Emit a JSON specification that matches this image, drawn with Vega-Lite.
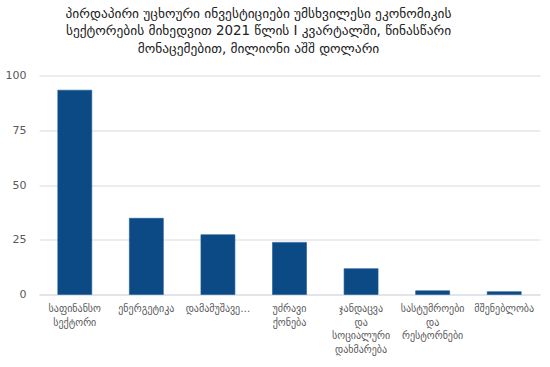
{
  "$schema": "https://vega.github.io/schema/vega-lite/v6.json",
  "width": 501,
  "height": 219,
  "autosize": {"type": "none"},
  "padding": {"left": 39, "top": 75.5, "right": 10, "bottom": 72.5},
  "background": "white",
  "title": {
    "text": [
      "პირდაპირი უცხოური ინვესტიციები უმსხვილესი ეკონომიკის",
      "სექტორების მიხედვით 2021 წლის I კვარტალში, წინასწარი",
      "მონაცემებით, მილიონი აშშ დოლარი"
    ],
    "font": "DejaVu Sans",
    "fontSize": 13.4,
    "fontWeight": "normal",
    "color": "#222222",
    "lineHeight": 17.5,
    "anchor": "middle",
    "dx": -31,
    "offset": 14.5
  },
  "data": {
    "values": [
      {"sector": "საფინანსო სექტორი", "value": 93.3},
      {"sector": "ენერგეტიკა", "value": 34.8},
      {"sector": "დამამუშავე…", "value": 27.3},
      {"sector": "უძრავი ქონება", "value": 23.8},
      {"sector": "ჯანდაცვა და სოციალური დახმარება", "value": 11.8},
      {"sector": "სასტუმროები და რესტორნები", "value": 1.7},
      {"sector": "მშენებლობა", "value": 1.3}
    ]
  },
  "mark": {"type": "bar", "color": "#0c4a86", "stroke": "#1a5a96", "strokeWidth": 0.6},
  "encoding": {
    "x": {
      "field": "sector",
      "type": "nominal",
      "sort": null,
      "scale": {"paddingInner": 0.525, "paddingOuter": 0.2625},
      "axis": {
        "title": null,
        "labelAngle": 0,
        "labelExpr": "split(datum.label, ' ')",
        "labelFont": "DejaVu Sans",
        "labelFontSize": 10,
        "labelColor": "#595959",
        "labelLineHeight": 13.5,
        "labelPadding": 9,
        "labelLimit": 0,
        "ticks": false,
        "domainColor": "#d6dce4",
        "domainWidth": 1.2
      }
    },
    "y": {
      "field": "value",
      "type": "quantitative",
      "scale": {"domain": [0, 100]},
      "axis": {
        "title": null,
        "values": [0, 25, 50, 75, 100],
        "labelFont": "DejaVu Sans",
        "labelFontSize": 11,
        "labelColor": "#595959",
        "labelPadding": 13,
        "ticks": false,
        "domain": false,
        "gridColor": "#d9d9d9"
      }
    }
  },
  "config": {"view": {"stroke": null}}
}
